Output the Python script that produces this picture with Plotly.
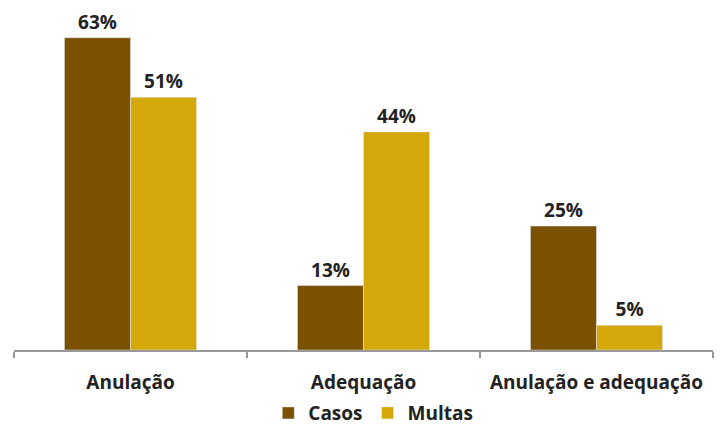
import plotly.graph_objects as go

categorias = ["Anulação", "Adequação", "Anulação e adequação"]
casos = [63, 13, 25]
multas = [51, 44, 5]

cor_casos = "#7B5000"
cor_multas = "#D4A80B"
fonte = "Open Sans"
tamanho = 19

fig = go.Figure()
fig.add_trace(go.Bar(
    name="Casos", x=categorias, y=casos, marker_color=cor_casos,
    text=[f"{v}%" for v in casos], textposition="outside",
    textfont=dict(family=fonte, size=tamanho, color="#222222"),
    cliponaxis=False,
))
fig.add_trace(go.Bar(
    name="Multas", x=categorias, y=multas, marker_color=cor_multas,
    text=[f"{v}%" for v in multas], textposition="outside",
    textfont=dict(family=fonte, size=tamanho, color="#222222"),
    cliponaxis=False,
))

fig.update_layout(
    width=721, height=425,
    margin=dict(l=14, r=8, t=3, b=75, autoexpand=False),
    paper_bgcolor="white", plot_bgcolor="white",
    barmode="group", bargap=0.433, bargroupgap=0,
    font=dict(family=fonte, size=tamanho, color="#222222", weight="bold"),
    showlegend=True,
    legend=dict(
        orientation="h", x=0.514, xanchor="center", y=-0.127, yanchor="top",
        bgcolor="rgba(0,0,0,0)",
        font=dict(family=fonte, size=tamanho, color="#222222", weight="bold"),
        itemwidth=30, tracegroupgap=0,
    ),
    xaxis=dict(
        showline=True, linecolor="#999999", linewidth=2,
        ticks="outside", tickson="boundaries", ticklen=6, tickcolor="#999999",
        tickwidth=2, ticklabelstandoff=14, automargin=False,
        tickfont=dict(family=fonte, size=tamanho, color="#222222", weight="bold"),
        showgrid=False,
    ),
    yaxis=dict(range=[0, 70], visible=False, showgrid=False),
)

fig.write_html("out.html")
